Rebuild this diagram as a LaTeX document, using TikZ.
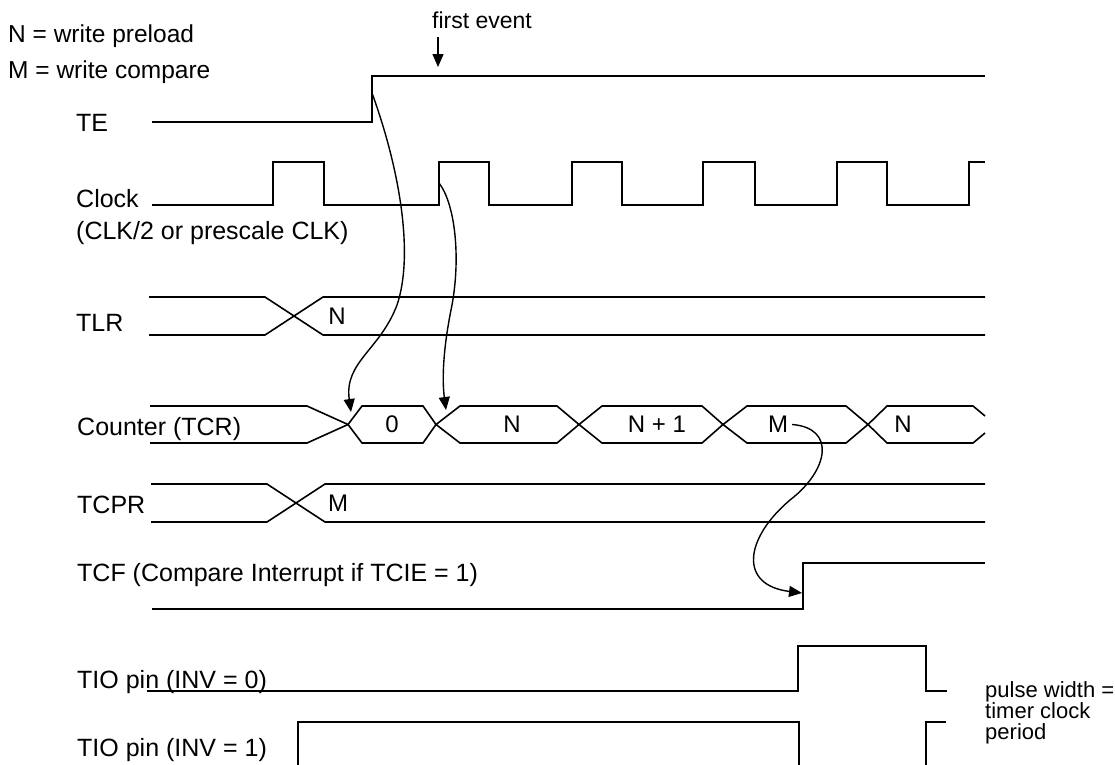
\documentclass[tikz,border=0pt]{standalone}
\usepackage{fontspec}
\setmainfont{Liberation Sans}
\usetikzlibrary{arrows.meta}
\begin{document}
\begin{tikzpicture}[x=1pt,y=-1pt,
  sig/.style={line width=2.4pt, line join=miter},
  bus/.style={line width=1.6pt, line join=miter},
  lbl/.style={anchor=base west, inner sep=0pt, font=\fontsize{25}{29}\selectfont},
  leg/.style={anchor=base west, inner sep=0pt, font=\fontsize{24.5}{29}\selectfont},
  val/.style={anchor=center, inner sep=0pt, font=\fontsize{24}{28}\selectfont},
  note/.style={anchor=base west, inner sep=0pt, font=\fontsize{22}{24}\selectfont},
  tip/.style={-{Triangle[length=13pt,width=11pt]}},
  cause/.style={tip, line width=1.4pt},
]
\useasboundingbox (0,0) rectangle (1115,764);

% legend and labels
\node[leg] (legN) at (8,42) {N = write preload};
\node[leg] (legM) at (8,78) {M = write compare};
\node[note, font=\fontsize{23}{26}\selectfont] (fe) at (432,28) {first event};
\node[lbl] (lTE) at (76,131.5) {TE};
\node[lbl] (lClk) at (76,207.5) {Clock};
\node[lbl] (lClk2) at (76,239) {(CLK/2 or prescale CLK)};
\node[lbl] (lTLR) at (76,331) {TLR};
\node[lbl] (lTCR) at (77,435) {Counter (TCR)};
\node[lbl] (lTCPR) at (77,513) {TCPR};
\node[lbl] (lTCF) at (77,581) {TCF (Compare Interrupt if TCIE = 1)};
\node[lbl] (lTIO0) at (77,688) {TIO pin (INV = 0)};
\node[lbl] (lTIO1) at (77,756) {TIO pin (INV = 1)};
\node[note] (pw1) at (985,697) {pulse width =};
\node[note] (pw2) at (985,718) {timer clock};
\node[note] (pw3) at (985,739) {period};

% first event arrow
\coordinate (feA) at (438,37);
\coordinate (feB) at (438,67);
\draw[tip, line width=1.5pt] (feA) -- (feB);

% TE
\draw[sig] (152,122) -- (372,122) -- (372,76) -- (985,76);

% Clock
\draw[sig] (152,205) -- (273,205) -- (273,162) -- (324,162) -- (324,205)
  -- (439,205) -- (439,162) -- (489,162) -- (489,205)
  -- (572,205) -- (572,162) -- (622,162) -- (622,205)
  -- (703,205) -- (703,162) -- (755,162) -- (755,205)
  -- (837,205) -- (837,162) -- (887,162) -- (887,205)
  -- (969,205) -- (969,162) -- (985,162);

% TLR
\draw[bus] (149,297) -- (265,297) -- (323,335) -- (985,335);
\draw[bus] (149,335) -- (265,335) -- (323,297) -- (985,297);
\node[val] (vTLR) at (337,316) {N};

% Counter
\draw[bus] (150,406) -- (307,406) -- (348,424.5);
\draw[bus] (150,443) -- (307,443) -- (348,424.5);
\draw[bus] (348,424.5) -- (362,406) -- (423,406) -- (436,424.5) -- (423,443) -- (362,443) -- cycle;
\draw[bus] (436,424.5) -- (460,406) -- (557,406) -- (579,424.5) -- (557,443) -- (460,443) -- cycle;
\draw[bus] (579,424.5) -- (602,406) -- (702,406) -- (723,424.5) -- (702,443) -- (602,443) -- cycle;
\draw[bus] (723,424.5) -- (747,406) -- (846,406) -- (868,424.5) -- (846,443) -- (747,443) -- cycle;
\draw[bus] (985,416) -- (973,406) -- (887,406) -- (868,424.5) -- (887,443) -- (973,443) -- (985,433);
\node[val] (c0) at (392,424.5) {0};
\node[val] (c1) at (512,424.5) {N};
\node[val] (c2) at (657,424.5) {N + 1};
\node[val] (c3) at (778,424.5) {M};
\node[val] (c4) at (903,424.5) {N};

% TCPR
\draw[bus] (151,484) -- (267,484) -- (325,522) -- (985,522);
\draw[bus] (151,522) -- (267,522) -- (325,484) -- (985,484);
\node[val] (vTCPR) at (338,503) {M};

% TCF
\draw[sig] (152,609) -- (803,609) -- (803,563) -- (985,563);

% TIO pins
\draw[sig] (147,691) -- (798,691) -- (798,646) -- (926,646) -- (926,691) -- (947,691);
\draw[sig] (298,765) -- (298,722) -- (799,722) -- (799,765);
\draw[sig] (926,765) -- (926,722) -- (946,722);

% causal arrows
\coordinate (teRise) at (372,93);
\coordinate (cnt0) at (351,412);
\coordinate (clkRise) at (439,183);
\coordinate (cntN) at (446,410);
\coordinate (tcfRise) at (802,593);
\draw[cause] (teRise) .. controls (400,170) and (414,255) .. (397,305)
  .. controls (380,350) and (344,362) .. (cnt0);
\draw[cause] (clkRise) .. controls (456,205) and (461,262) .. (451,310)
  .. controls (443,350) and (442,380) .. (cntN);
\draw[cause] (c3.east) ++(4,0) .. controls (836,428) and (829,470) .. (790,500)
  .. controls (745,538) and (738,585) .. (tcfRise);
\end{tikzpicture}
\end{document}
